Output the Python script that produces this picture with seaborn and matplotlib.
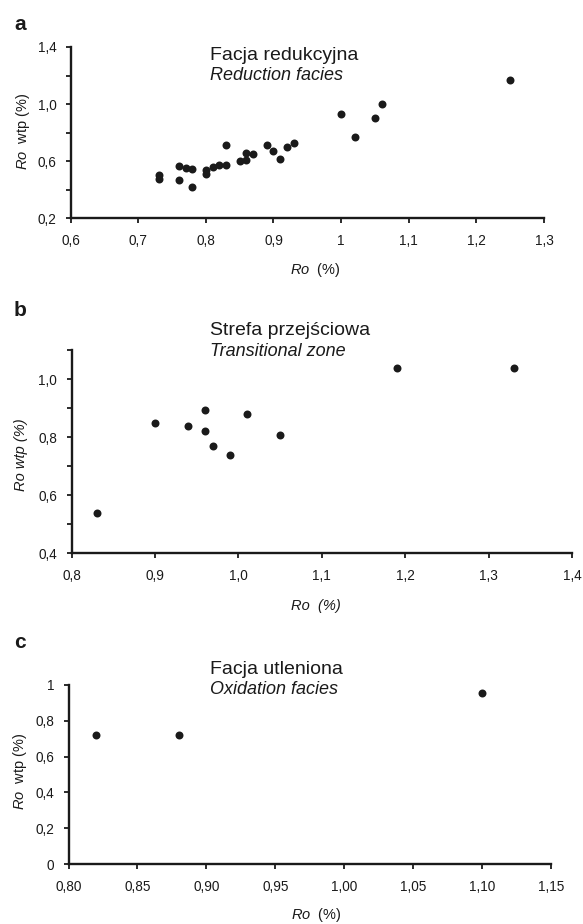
import matplotlib
matplotlib.use("Agg")
import matplotlib.pyplot as plt
import seaborn as sns
import pandas as pd
from matplotlib.ticker import FuncFormatter, FixedLocator

# panel a - reduction facies
a_ro = [0.73, 0.73, 0.76, 0.76, 0.77, 0.78, 0.78, 0.80, 0.80, 0.81, 0.82, 0.83, 0.83,
        0.85, 0.86, 0.86, 0.87, 0.89, 0.90, 0.91, 0.92, 0.93, 1.00, 1.02, 1.05, 1.06, 1.25]
a_rowtp = [0.50, 0.475, 0.566, 0.468, 0.555, 0.545, 0.42, 0.54, 0.51, 0.56, 0.575, 0.57, 0.713,
           0.604, 0.655, 0.61, 0.648, 0.713, 0.672, 0.618, 0.697, 0.73, 0.933, 0.772, 0.90, 1.0, 1.169]

# panel b - transitional zone
b_ro = [0.83, 0.90, 0.94, 0.96, 0.96, 0.97, 0.99, 1.01, 1.05, 1.19, 1.33]
b_rowtp = [0.54, 0.848, 0.84, 0.892, 0.822, 0.77, 0.74, 0.879, 0.809, 1.039, 1.039]

# panel c - oxidation facies
c_ro = [0.82, 0.88, 1.10]
c_rowtp = [0.72, 0.72, 0.955]

titles_pl = ["Facja redukcyjna", "Strefa przejściowa", "Facja utleniona"]
titles_en = ["Reduction facies", "Transitional zone", "Oxidation facies"]
letters = ["a", "b", "c"]

sns.set_style("ticks")
plt.rcParams["font.family"] = ["Liberation Sans", "DejaVu Sans"]
plt.rcParams["mathtext.fontset"] = "custom"
plt.rcParams["mathtext.rm"] = "Liberation Sans"
plt.rcParams["mathtext.it"] = "Liberation Sans:italic"

W, H = 583, 924
fig = plt.figure(figsize=(W / 100, H / 100), dpi=100)


def px_axes(l, t, r, b):
    return fig.add_axes([l / W, 1 - b / H, (r - l) / W, (b - t) / H])


def comma(fmt):
    return FuncFormatter(lambda v, p: (fmt % v).replace(".", ","))


ink = "#1a1a1a"
tick_fs = 9.8
lab_fs = 10.5

panels = [
    dict(x=a_ro, y=a_rowtp, box=(70.6, 47, 544, 218.3), xlim=(0.6, 1.3),
         xt=[0.6, 0.7, 0.8, 0.9, 1.0, 1.1, 1.2, 1.3], xf="%g",
         ylim=(0.2, 1.4), ymaj=[0.2, 0.6, 1.0, 1.4], ymin=[0.4, 0.8, 1.2], yf="%.1f",
         title_y=(55, 75), letter_y=24, italic_all=False,
         xl=(0.518, -0.302), yl=(-0.1005, 0.51)),
    dict(x=b_ro, y=b_rowtp, box=(71.5, 350, 572, 553.3), xlim=(0.8, 1.4),
         xt=[0.8, 0.9, 1.0, 1.1, 1.2, 1.3, 1.4], xf="%.1f",
         ylim=(0.4, 1.1), ymaj=[0.4, 0.6, 0.8, 1.0], ymin=[0.5, 0.7, 0.9, 1.1], yf="%.1f",
         title_y=(330, 351), letter_y=311, italic_all=True,
         xl=(0.4885, -0.259), yl=(-0.100, 0.483)),
    dict(x=c_ro, y=c_rowtp, box=(68.5, 685, 551, 864), xlim=(0.8, 1.15),
         xt=[0.80, 0.85, 0.90, 0.95, 1.00, 1.05, 1.10, 1.15], xf="%.2f",
         ylim=(0.0, 1.0), ymaj=[0.0, 0.2, 0.4, 0.6, 0.8, 1.0], ymin=[], yf="%g",
         title_y=(669, 689), letter_y=643, italic_all=False,
         xl=(0.513, -0.285), yl=(-0.0995, 0.52)),
]

for i, p in enumerate(panels):
    ax = px_axes(*p["box"])
    df = pd.DataFrame({"Ro": p["x"], "Ro_wtp": p["y"]})
    sns.scatterplot(data=df, x="Ro", y="Ro_wtp", ax=ax, color=ink, s=33,
                    edgecolor=ink, linewidth=0, clip_on=False)
    ax.set_xlim(*p["xlim"])
    ax.set_ylim(*p["ylim"])
    ax.xaxis.set_major_locator(FixedLocator(p["xt"]))
    ax.xaxis.set_major_formatter(comma(p["xf"]))
    ax.yaxis.set_major_locator(FixedLocator(p["ymaj"]))
    ax.yaxis.set_minor_locator(FixedLocator(p["ymin"]))
    ax.yaxis.set_major_formatter(comma(p["yf"]))
    ax.tick_params(which="both", direction="out", length=3.3, width=1.3, color=ink,
                   labelsize=tick_fs, labelcolor=ink)
    ax.tick_params(axis="x", pad=8)
    ax.tick_params(axis="y", pad=7)
    sns.despine(ax=ax)
    for s in ("left", "bottom"):
        ax.spines[s].set_linewidth(1.7)
        ax.spines[s].set_color(ink)

    if p["italic_all"]:
        ax.set_xlabel("Ro  (%)", fontsize=lab_fs, style="italic", color=ink, va="center")
        ax.set_ylabel("Ro wtp (%)", fontsize=lab_fs, style="italic", color=ink, va="center")
    else:
        ax.set_xlabel(r"$\mathit{Ro}$  (%)", fontsize=lab_fs, color=ink, va="center")
        ax.set_ylabel(r"$\mathit{Ro}$  wtp (%)", fontsize=lab_fs, color=ink, va="center")
    ax.xaxis.set_label_coords(*p["xl"])
    ax.yaxis.set_label_coords(*p["yl"])

    ty1, ty2 = p["title_y"]
    fig.text(210 / W, 1 - ty1 / H, titles_pl[i], fontsize=14, color=ink,
             ha="left", va="center")
    fig.text(210 / W, 1 - ty2 / H, titles_en[i], fontsize=13, style="italic",
             color=ink, ha="left", va="center")
    fig.text(20 / W, 1 - p["letter_y"] / H, letters[i], fontsize=15,
             fontweight="bold", color=ink, ha="center", va="center")

fig.savefig("out.png", dpi=100)
